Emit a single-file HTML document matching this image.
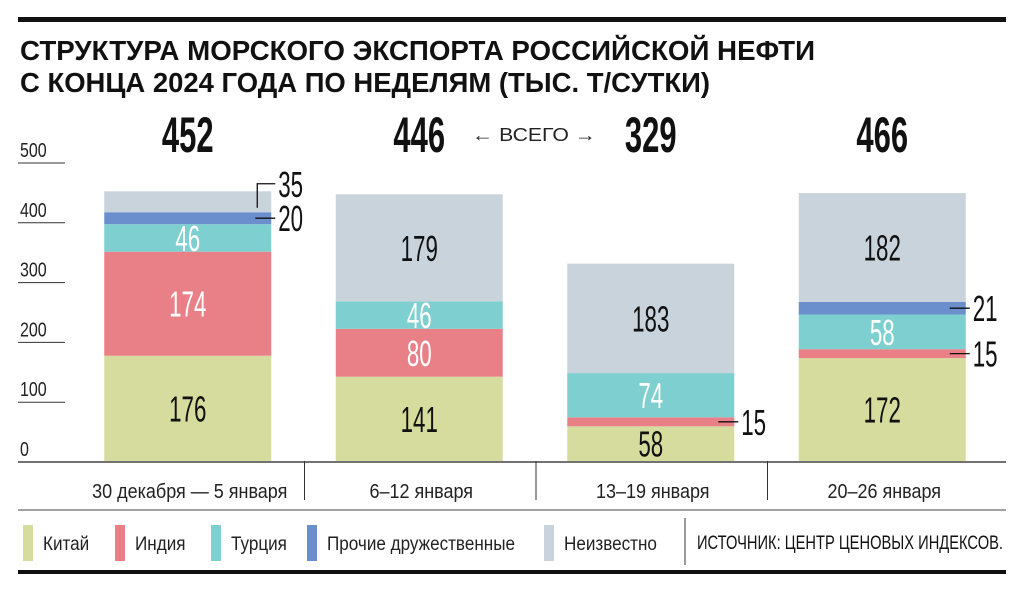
<!DOCTYPE html>
<html><head><meta charset="utf-8"><style>
body{margin:0;background:#fff;width:1024px;height:592px;overflow:hidden}
svg{display:block;font-family:"Liberation Sans",sans-serif}
</style></head><body>
<svg id="c" width="1024" height="592" viewBox="0 0 1024 592">
<rect x="18" y="17" width="988" height="5" fill="#111"/>
<text x="20" y="60" font-weight="bold" font-size="28" fill="#111" textLength="795" lengthAdjust="spacingAndGlyphs">СТРУКТУРА МОРСКОГО ЭКСПОРТА РОССИЙСКОЙ НЕФТИ</text>
<text x="20" y="92" font-weight="bold" font-size="28" fill="#111" textLength="690" lengthAdjust="spacingAndGlyphs">С КОНЦА 2024 ГОДА ПО НЕДЕЛЯМ (ТЫС. Т/СУТКИ)</text>
<g id="axis"></g><g id="bars"></g>
<text x="472" y="141" font-size="18" fill="#222" textLength="124" lengthAdjust="spacingAndGlyphs">← ВСЕГО →</text>
<line x1="18" y1="510" x2="1006" y2="510" stroke="#444" stroke-width="1"/>
<g id="legend"></g>
<line x1="685" y1="518" x2="685" y2="565" stroke="#333"/>
<text x="697" y="549" font-size="19" fill="#111" textLength="306" lengthAdjust="spacingAndGlyphs">ИСТОЧНИК: ЦЕНТР ЦЕНОВЫХ ИНДЕКСОВ.</text>
<rect x="18" y="570" width="988" height="4" fill="#111"/>
</svg>
<script>
const categories=["30 декабря — 5 января","6–12 января","13–19 января","20–26 января"];
const totals=[452,446,329,466];
const china=[176,141,58,172];
const india=[174,80,15,15];
const turkey=[46,46,74,58];
const other=[20,0,0,21];
const unknown=[35,179,183,182];
const yTicks=[0,100,200,300,400,500];
const seriesNames=["Китай","Индия","Турция","Прочие дружественные","Неизвестно"];
const colors=["#d5dc9e","#ea8087","#7ecfcf","#6a8fcc","#c9d3db"];
const textColors=["#111","#fff","#fff","#fff","#111"];
const NS="http://www.w3.org/2000/svg";
const y0=461,pxPer=0.598;
const y=v=>y0-v*pxPer;
const slotW=231.5,slotX0=73,barW=167;
const xc=i=>slotX0+slotW*i+slotW/2-1;
function mk(t,a,p){const e=document.createElementNS(NS,t);for(const k in a)e.setAttribute(k,a[k]);p.appendChild(e);return e;}
function ct(p,x,yy,str,size,anchor,sx,fill,bold){
  const g=mk('g',{transform:`translate(${x},${yy}) scale(${sx},1)`},p);
  const t=mk('text',{x:0,y:0,'text-anchor':anchor,'font-size':size,fill:fill,'font-weight':bold?'bold':'normal'},g);
  t.textContent=str;return t;
}
const ax=document.getElementById('axis');
yTicks.forEach(t=>{
  const l=mk('line',{x1:18,x2:65,y1:y(t)+1,y2:y(t)+1,stroke:'#333','stroke-width':1},ax);
  
  
  const tx=ct(ax,20,y(t)-5,String(t),20,'start',0.8,'#222',false);
  
  
});
const base=mk('line',{x1:18,x2:1006,y1:y0+1,y2:y0+1,stroke:'#444','stroke-width':1.5},ax);


const bg=document.getElementById('bars');
const series=[china,india,turkey,other,unknown];
categories.forEach((c,i)=>{
  const cx=xc(i),x=cx-barW/2;
  let acc=0;
  series.forEach((s,k)=>{
    const v=s[i];if(!v)return;
    const top=y(acc+v),bot=y(acc);
    const r=mk('rect',{x:x,y:top,width:barW,height:bot-top,fill:colors[k]},bg);
    
    
    const mid=(top+bot)/2;
    if(v>=40){
      const t=ct(bg,cx,mid+13,String(v),36,'middle',0.62,textColors[k],false);
      
      
    } else {
      let ly=mid;
      if(k===4){
        const p=mk('polyline',{points:`${x+barW-14},${mid+6} ${x+barW-14},${mid-18} ${x+barW+4},${mid-18}`,fill:'none',stroke:'#111','stroke-width':1.3},bg);
        
        
        ly=mid-18;
      } else {
        const l=mk('line',{x1:x+barW-16,x2:x+barW+4,y1:mid,y2:mid,stroke:'#111','stroke-width':1.3},bg);
        
        
      }
      const t=ct(bg,x+barW+7,ly+13,String(v),36,'start',0.62,'#111',false);
      
      
    }
    acc+=v;
  });
  const tt=ct(bg,cx,152,String(totals[i]),50,'middle',0.62,'#111',true);
  
  
  const cl=ct(bg,cx+2,498,c,20,'middle',0.9,'#222',false);
  
  
  if(i>0){
    const d=mk('line',{x1:slotX0+slotW*i,x2:slotX0+slotW*i,y1:y0,y2:500,stroke:'#333'},bg);
    
    
  }
});
const lg=document.getElementById('legend');
const lx=[23,115,211,307,544];
seriesNames.forEach((n,k)=>{
  const r=mk('rect',{x:lx[k],y:525,width:10,height:36,fill:colors[k]},lg);
  
  
  const t=ct(lg,lx[k]+20,550,n,19,'start',0.9,'#222',false);
  
  
});
</script>
</body></html>
